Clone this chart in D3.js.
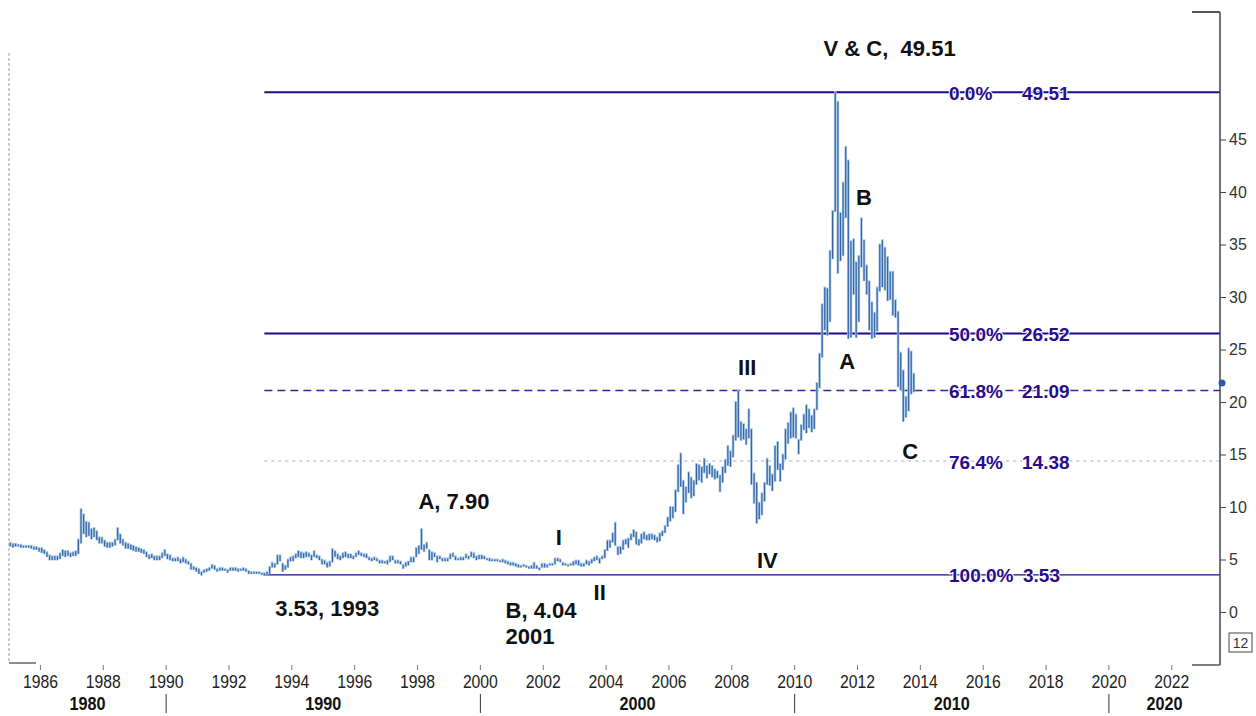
<!DOCTYPE html>
<html>
<meta charset='utf-8'>
<head>
<title>silver fibonacci retracement</title>
<script src='https://d3js.org/d3.v7.min.js'></script>
<style>
  body { margin: 0; background: #fff; }
  text { font-family: 'Liberation Sans', Arial, sans-serif; }
</style>
</head>

<body>
<div id='chart'></div>
<script>
// monthly bars, first month = Jan 1985
var startYear = 1985
var highs = [
  6.6,6.5,6.5,6.4,6.4,6.3,6.3,6.3,6.3,6.2,6.2,6.1,
  6.1,5.9,5.7,5.4,5.3,5.3,5.3,5.6,5.9,5.8,5.8,5.6,
  5.7,5.8,6.9,9.8,9.3,8.6,8.5,7.9,8.0,7.7,7.1,7.1,
  6.8,6.6,6.6,6.6,6.9,8.0,7.4,6.9,6.6,6.5,6.4,6.3,
  6.2,6.1,6.0,5.9,5.7,5.4,5.5,5.3,5.3,5.3,5.6,5.9,
  5.5,5.4,5.1,5.1,5.2,5.0,5.2,5.0,4.8,4.6,4.3,4.2,
  4.1,3.8,4.0,4.1,4.2,4.5,4.4,4.1,4.2,4.2,4.1,4.0,
  4.2,4.2,4.2,4.1,4.1,4.2,4.1,3.9,3.8,3.8,3.8,3.8,
  3.7,3.7,3.8,4.3,4.7,4.6,5.4,5.4,4.6,4.4,5.0,5.2,
  5.3,5.5,5.8,5.7,5.6,5.7,5.6,5.4,5.8,5.4,5.3,5.0,
  4.9,4.7,4.8,6.0,5.8,5.5,5.3,5.6,5.7,5.5,5.5,5.3,
  5.6,5.8,5.6,5.5,5.5,5.2,5.1,5.2,5.1,4.9,4.9,4.8,
  4.9,5.3,5.3,4.9,4.9,4.8,4.5,4.7,4.8,5.2,5.2,6.1,
  6.3,7.9,6.4,6.6,5.9,5.7,5.6,5.3,5.3,5.1,5.1,5.1,
  5.5,5.6,5.3,5.1,5.2,5.2,5.5,5.3,5.7,5.6,5.3,5.4,
  5.4,5.3,5.1,5.1,5.0,5.0,5.0,4.9,5.0,4.9,4.8,4.7,
  4.7,4.6,4.5,4.4,4.5,4.4,4.3,4.4,4.7,4.4,4.2,4.6,
  4.6,4.5,4.6,4.6,5.1,5.1,5.0,4.7,4.6,4.5,4.6,4.8,
  4.9,4.9,4.6,4.6,4.9,4.8,5.0,5.2,5.3,5.1,5.3,5.9,
  6.8,6.8,7.5,8.5,6.2,6.2,6.8,6.9,7.0,7.4,7.8,7.6,
  6.9,7.4,7.6,7.3,7.4,7.4,7.3,7.1,7.5,7.7,8.2,9.0,
  10.0,10.0,11.6,14.0,15.1,12.5,11.9,13.3,12.8,12.5,14.1,14.0,
  13.8,14.6,13.9,14.1,13.9,13.6,13.4,13.0,13.8,14.5,15.8,15.3,
  16.8,20.0,21.1,18.1,17.9,17.4,19.3,17.4,13.2,12.3,10.4,11.3,
  12.3,14.6,13.9,13.1,15.8,16.2,14.1,15.0,17.4,18.0,19.0,19.4,
  18.8,16.4,17.8,18.8,19.7,19.3,18.7,19.3,21.8,24.6,29.3,30.9,
  30.8,34.4,38.2,49.51,48.6,38.0,40.9,44.3,43.0,35.3,35.5,33.3,
  33.9,37.5,35.4,33.0,31.5,29.5,28.5,30.9,35.0,35.4,34.7,33.8,
  32.4,32.4,29.7,28.6,24.7,23.0,20.5,25.1,24.8,22.7
]
var lows = [
  6.3,6.2,6.3,6.3,6.2,6.2,6.2,6.2,6.1,6.0,6.0,5.8,
  5.7,5.6,5.3,5.0,5.0,5.0,5.0,5.1,5.4,5.3,5.4,5.3,
  5.4,5.4,5.6,6.6,7.5,7.2,7.3,7.0,7.2,6.9,6.6,6.6,
  6.3,6.2,6.2,6.3,6.4,6.9,6.6,6.4,6.1,6.1,6.0,5.9,
  5.8,5.8,5.7,5.6,5.3,5.1,5.2,5.0,5.0,5.0,5.2,5.4,
  5.1,5.0,4.9,4.9,4.9,4.7,4.8,4.7,4.6,4.1,4.1,3.9,
  3.7,3.55,3.8,3.9,4.0,4.2,4.1,3.9,4.0,4.0,4.0,3.8,
  4.0,4.0,4.0,3.9,4.0,4.0,3.9,3.7,3.7,3.7,3.7,3.7,
  3.6,3.53,3.6,3.7,4.3,4.3,4.6,4.9,3.9,4.1,4.3,4.9,
  4.9,5.2,5.3,5.2,5.2,5.3,5.3,5.0,5.3,5.2,5.0,4.6,
  4.6,4.3,4.4,4.8,5.3,5.1,5.0,5.2,5.3,5.2,5.2,5.1,
  5.3,5.5,5.4,5.3,5.2,5.0,4.9,5.0,4.9,4.7,4.7,4.7,
  4.6,4.8,5.0,4.7,4.7,4.6,4.2,4.4,4.5,4.8,4.8,5.3,
  5.6,6.0,5.8,6.1,5.0,5.0,5.3,4.8,5.1,4.9,4.9,4.9,
  5.1,5.3,5.0,5.0,5.0,5.0,5.2,5.1,5.3,5.2,5.0,5.1,
  5.1,5.1,5.0,4.9,4.9,4.9,4.9,4.8,4.8,4.7,4.6,4.5,
  4.5,4.4,4.3,4.3,4.4,4.3,4.2,4.2,4.2,4.2,4.04,4.3,
  4.3,4.3,4.5,4.5,4.6,4.9,4.8,4.5,4.5,4.4,4.5,4.5,
  4.6,4.5,4.4,4.4,4.6,4.5,4.7,4.9,5.0,4.7,5.1,5.2,
  5.9,6.2,6.7,6.4,5.5,5.6,6.0,6.5,6.2,6.9,7.2,6.5,
  6.4,6.6,7.0,6.9,6.9,7.0,6.9,6.7,6.8,7.3,7.6,8.2,
  8.7,9.0,9.6,11.5,12.0,9.4,10.5,11.4,10.9,11.1,12.2,12.6,
  12.4,13.3,12.8,13.2,12.9,12.7,12.8,11.5,12.4,13.3,14.0,13.9,
  14.8,16.4,16.7,16.4,16.5,16.0,16.6,12.2,10.4,8.5,8.9,9.3,
  10.6,12.2,12.1,11.6,12.5,13.6,12.5,13.6,14.6,16.1,16.6,16.7,
  16.6,15.1,16.4,17.4,17.1,17.6,17.2,17.5,19.3,21.4,24.3,26.9,
  26.4,27.7,33.7,38.2,32.3,33.5,34.0,37.6,26.1,26.2,30.3,26.2,
  27.7,32.9,31.6,30.3,26.9,26.1,26.2,26.8,30.6,31.0,30.7,29.7,
  29.8,28.3,28.1,21.5,21.2,18.2,18.6,19.2,20.8,21.0
]
var lastPrice = 21.8

// fibonacci retracement from the 1993 low to the 2011 high
var fibPercents = ['0.0%', '50.0%', '61.8%', '76.4%', '100.0%']
var fibValues = [49.51, 26.52, 21.09, 14.38, 3.53]
var fibValueText = ['49.51', '26.52', '21.09', '14.38', '3.53']
var fibStartYear = 1993.125

var yTicks = [0, 5, 10, 15, 20, 25, 30, 35, 40, 45]
var yearTicks = d3.range(1986, 2023, 2)
var decades = [1980, 1990, 2000, 2010, 2020]

var annotations = [
  {text: 'V & C,  49.51', year: 2010.92, value: 53.7},
  {text: 'A, 7.90', year: 1998.03, value: 10.48},
  {text: '3.53, 1993', year: 1993.47, value: 0.38},
  {text: 'B, 4.04', year: 2000.8, value: 0.19},
  {text: '2001', year: 2000.8, value: -2.29},
  {text: 'I', year: 2002.4, value: 7.14},
  {text: 'II', year: 2003.6, value: 1.81},
  {text: 'III', year: 2008.2, value: 23.33},
  {text: 'IV', year: 2008.8, value: 4.95},
  {text: 'A', year: 2011.42, value: 23.81},
  {text: 'B', year: 2011.95, value: 39.43},
  {text: 'C', year: 2013.42, value: 15.33}
]

var W = 1256, H = 716
var plotLeft = 9, plotRight = 1220, plotTop = 12, plotBottom = 665

var svg = d3.select('#chart')
  .append('svg')
    .attr('width', W)
    .attr('height', H)

var x = d3.scaleLinear()
  .domain([1985, 2023.535])
  .range([plotLeft, plotRight])
var y = d3.scaleLinear()
  .domain([0, 50])
  .range([612, 87])

// frame pieces
svg.append('line')
  .attr('x1', plotLeft).attr('x2', plotLeft)
  .attr('y1', 53).attr('y2', plotBottom - 2)
  .attr('stroke', '#9a9a9a').attr('stroke-dasharray', '3,2')
svg.append('line')
  .attr('x1', plotLeft).attr('x2', 36)
  .attr('y1', plotBottom - 2).attr('y2', plotBottom - 2)
  .attr('stroke', '#666').attr('stroke-width', 1.5)

// fib lines
var fibStyle = [
  {w: 2, dash: null, c: '#1c0a8a'},
  {w: 2, dash: null, c: '#1c0a8a'},
  {w: 1.5, dash: '8,5', c: '#3a22a8'},
  {w: 1, dash: '3,4', c: '#a8a8d0'},
  {w: 1.2, dash: null, c: '#1c0a8a'}
]
var fib = svg.append('g')
fibValues.forEach(function(v, i) {
  fib.append('line')
    .attr('x1', x(fibStartYear)).attr('x2', plotRight)
    .attr('y1', y(v)).attr('y2', y(v))
    .attr('stroke', fibStyle[i].c)
    .attr('stroke-width', fibStyle[i].w)
    .attr('stroke-dasharray', fibStyle[i].dash)
})

// price bars
var bars = svg.append('g')
var step = x(startYear + 1 / 12) - x(startYear)
highs.forEach(function(h, i) {
  var t = startYear + i / 12 + 1 / 24
  bars.append('rect')
    .attr('x', x(t) - step / 2)
    .attr('width', step)
    .attr('y', y(h) - 1)
    .attr('height', Math.max(2, y(lows[i]) - y(h) + 2))
    .attr('fill', '#a6c9e6')
  bars.append('line')
    .attr('x1', x(t)).attr('x2', x(t))
    .attr('y1', y(h)).attr('y2', y(lows[i]) + 0.5)
    .attr('stroke', '#3563a6').attr('stroke-width', 1.2)
})

// fib labels
var fibLabelStyle = function(sel) {
  sel.attr('fill', '#2a0c8c')
    .attr('font-size', 19)
    .attr('font-weight', 'bold')
    .attr('dominant-baseline', 'central')
    .attr('stroke', '#fff').attr('stroke-width', 2)
    .attr('paint-order', 'stroke')
}
fibValues.forEach(function(v, i) {
  fib.append('text')
    .attr('x', 949).attr('y', y(v) + 1)
    .text(fibPercents[i])
    .call(fibLabelStyle)
  fib.append('text')
    .attr('x', i === 4 ? 1023 : 1022).attr('y', y(v) + 1)
    .text(fibValueText[i])
    .call(fibLabelStyle)
})

// annotations
svg.append('g').selectAll('text')
  .data(annotations)
  .enter()
  .append('text')
    .attr('x', function(d) { return x(d.year) })
    .attr('y', function(d) { return y(d.value) })
    .attr('dominant-baseline', 'central')
    .attr('font-size', 22)
    .attr('font-weight', 'bold')
    .attr('fill', '#111')
    .style('white-space', 'pre')
    .text(function(d) { return d.text })

// right axis
var ax = svg.append('g')
  .attr('transform', 'translate(' + plotRight + ',0)')
ax.append('line')
  .attr('y1', plotTop).attr('y2', plotBottom)
  .attr('stroke', '#444').attr('stroke-width', 1.5)
ax.append('line')
  .attr('x1', -28).attr('x2', 0)
  .attr('y1', plotTop).attr('y2', plotTop)
  .attr('stroke', '#555').attr('stroke-width', 2)
ax.append('line')
  .attr('x1', -28).attr('x2', 0)
  .attr('y1', plotBottom).attr('y2', plotBottom)
  .attr('stroke', '#555').attr('stroke-width', 1.5)
var yAxis = d3.axisRight(y).tickValues(yTicks).tickSize(6).tickPadding(3)
ax.append('g')
  .call(yAxis)
  .call(function(g) {
    g.select('.domain').remove()
    g.selectAll('.tick line').attr('stroke', '#444')
    g.selectAll('.tick text')
      .attr('font-size', 16)
      .attr('fill', '#333')
      .attr('font-family', "'Liberation Sans', Arial, sans-serif")
  })
ax.append('circle')
  .attr('cx', 2).attr('cy', y(lastPrice))
  .attr('r', 3.5)
  .attr('fill', '#2a5aa8')
ax.append('rect')
  .attr('x', 9).attr('y', 633)
  .attr('width', 23).attr('height', 19)
  .attr('fill', 'none').attr('stroke', '#444')
ax.append('text')
  .attr('x', 20.5).attr('y', 643)
  .attr('text-anchor', 'middle')
  .attr('dominant-baseline', 'central')
  .attr('font-size', 14).attr('fill', '#333')
  .text('12')

// bottom year axis
var xa = svg.append('g')
xa.selectAll('line.yt')
  .data(yearTicks)
  .enter()
  .append('line')
    .attr('x1', function(d) { return x(d) }).attr('x2', function(d) { return x(d) })
    .attr('y1', 665).attr('y2', 670)
    .attr('stroke', '#777')
xa.selectAll('text.yl')
  .data(yearTicks)
  .enter()
  .append('text')
    .attr('x', function(d) { return x(d) })
    .attr('y', 688)
    .attr('text-anchor', 'middle')
    .attr('font-size', 19)
    .attr('fill', '#222')
    .attr('textLength', 35)
    .attr('lengthAdjust', 'spacingAndGlyphs')
    .text(function(d) { return d })

// decade row
xa.selectAll('line.dec')
  .data(decades.slice(1))
  .enter()
  .append('line')
    .attr('x1', function(d) { return x(d) }).attr('x2', function(d) { return x(d) })
    .attr('y1', 694).attr('y2', 713)
    .attr('stroke', '#333')
xa.selectAll('text.dec')
  .data(decades)
  .enter()
  .append('text')
    .attr('x', function(d) {
      var a = Math.max(plotLeft, x(d)), b = Math.min(plotRight, x(d + 10))
      return (a + b) / 2
    })
    .attr('y', 710)
    .attr('text-anchor', 'middle')
    .attr('font-size', 18)
    .attr('font-weight', 'bold')
    .attr('fill', '#111')
    .attr('textLength', 36)
    .attr('lengthAdjust', 'spacingAndGlyphs')
    .text(function(d) { return d })
</script>
</body>
</html>
